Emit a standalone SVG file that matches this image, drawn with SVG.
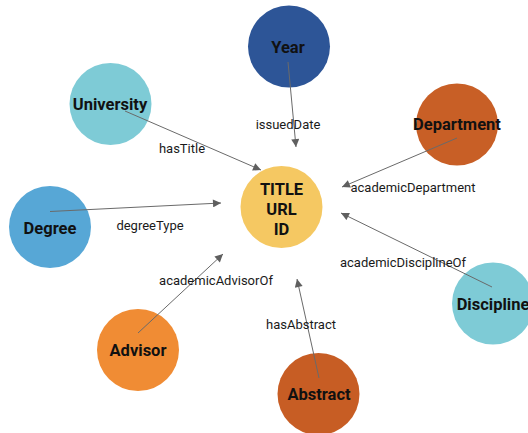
<svg xmlns="http://www.w3.org/2000/svg" width="528" height="433" viewBox="0 0 528 433">
  <defs>
    <marker id="arrow" viewBox="0 0 10 10" refX="10" refY="5" markerWidth="10" markerHeight="8" markerUnits="userSpaceOnUse" orient="auto">
      <path d="M0,0 L10,5 L0,10 z" fill="#5f5f5f"/>
    </marker>
    <style>
      .node-label { font-family: Roboto, "Liberation Sans", sans-serif; font-weight: bold; font-size: 16.5px; fill: #111; text-anchor: middle; dominant-baseline: central; }
      .edge { stroke: #6a6a6a; stroke-width: 1; fill: none; marker-end: url(#arrow); }
      .edge-label { font-family: Roboto, "Liberation Sans", sans-serif; font-size: 13px; fill: #1a1a1a; text-anchor: middle; dominant-baseline: central; }
    </style>
  </defs>
  <rect width="528" height="433" fill="#ffffff"/>

  <g id="node-year">
    <circle cx="289" cy="46.5" r="41" fill="#2d5597"/>
    <text class="node-label" x="288" y="47">Year</text>
  </g>
  <g id="node-university">
    <circle cx="110.5" cy="104" r="41" fill="#7ecbd6"/>
    <text class="node-label" x="110" y="104">University</text>
  </g>
  <g id="node-department">
    <circle cx="457" cy="124.5" r="41" fill="#c85f26"/>
    <text class="node-label" x="457" y="124">Department</text>
  </g>
  <g id="node-degree">
    <circle cx="50" cy="227" r="41" fill="#57a7d6"/>
    <text class="node-label" x="50" y="228">Degree</text>
  </g>
  <g id="node-thesis">
    <circle cx="281.5" cy="207" r="41" fill="#f5c862"/>
    <text class="node-label" x="281.5" y="189">TITLE</text>
    <text class="node-label" x="281.5" y="209">URL</text>
    <text class="node-label" x="281.5" y="229">ID</text>
  </g>
  <g id="node-discipline">
    <circle cx="493" cy="303.5" r="41" fill="#7ecbd6"/>
    <text class="node-label" x="493" y="304">Discipline</text>
  </g>
  <g id="node-advisor">
    <circle cx="138" cy="350" r="41" fill="#f08c34"/>
    <text class="node-label" x="138" y="350">Advisor</text>
  </g>
  <g id="node-abstract">
    <circle cx="318.5" cy="394" r="41" fill="#c75d24"/>
    <text class="node-label" x="319" y="394">Abstract</text>
  </g>

  <g id="connectors">
    <line class="edge" x1="288" y1="62" x2="296" y2="147"/>
    <line class="edge" x1="125" y1="111" x2="261" y2="170"/>
    <line class="edge" x1="50" y1="211.5" x2="221" y2="203"/>
    <line class="edge" x1="457" y1="138" x2="342" y2="187"/>
    <line class="edge" x1="492" y1="287" x2="341" y2="213"/>
    <line class="edge" x1="138" y1="333" x2="223" y2="254"/>
    <line class="edge" x1="319" y1="378" x2="297" y2="279"/>

    <text class="edge-label" x="288" y="124">issuedDate</text>
    <text class="edge-label" x="182" y="148">hasTitle</text>
    <text class="edge-label" x="150" y="225">degreeType</text>
    <text class="edge-label" x="413" y="187.5">academicDepartment</text>
    <text class="edge-label" x="403" y="262.5">academicDisciplineOf</text>
    <text class="edge-label" x="216" y="280">academicAdvisorOf</text>
    <text class="edge-label" x="301" y="324">hasAbstract</text>
  </g>
</svg>
